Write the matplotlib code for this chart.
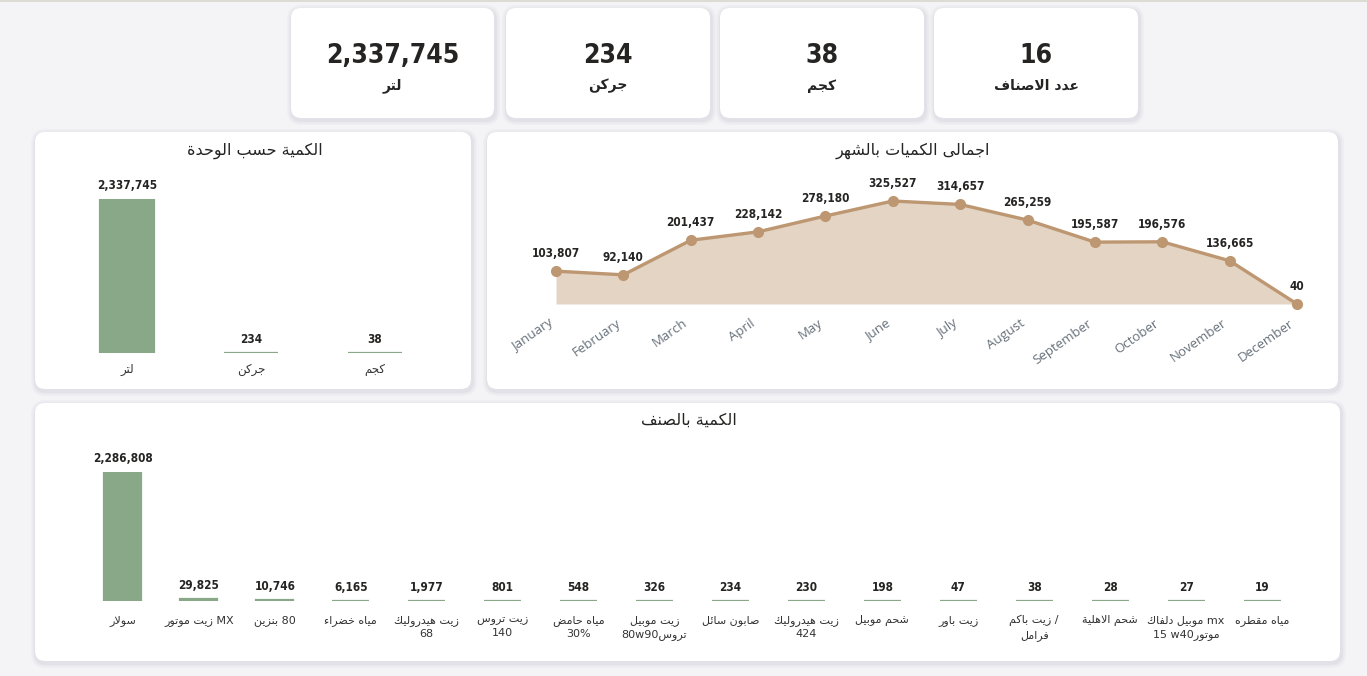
import re
import matplotlib
matplotlib.use('Agg')
import matplotlib.pyplot as plt
from matplotlib.patches import FancyBboxPatch
from matplotlib.transforms import ScaledTranslation

# ---- data ----
units = ['لتر', 'جركن', 'كجم']
unit_qty = [2337745, 234, 38]

months = ['January', 'February', 'March', 'April', 'May', 'June', 'July',
          'August', 'September', 'October', 'November', 'December']
month_qty = [103807, 92140, 201437, 228142, 278180, 325527, 314657,
             265259, 195587, 196576, 136665, 40]

items = ['سولار', 'زيت موتور MX', 'بنزين 80', 'مياه خضراء', 'زيت هيدروليك\n68',
         'زيت تروس\n140', 'مياه حامض\n30%', 'زيت موبيل\n80w90تروس', 'صابون سائل',
         'زيت هيدروليك\n424', 'شحم موبيل', 'زيت باور', 'زيت باكم /\nفرامل',
         'شحم الاهلية', 'موبيل دلفاك mx\n15 w40موتور', 'مياه مقطره']
item_qty = [2286808, 29825, 10746, 6165, 1977, 801, 548, 326, 234, 230,
            198, 47, 38, 28, 27, 19]

kpi_count_label = 'عدد الاصناف'
title_units = 'الكمية حسب الوحدة'
title_months = 'اجمالى الكميات بالشهر'
title_items = 'الكمية بالصنف'

# ---- tiny arabic shaper (no arabic_reshaper here) ----
DUAL = {'ئ': 0xFE89, 'ب': 0xFE8F, 'ت': 0xFE95, 'ث': 0xFE99, 'ج': 0xFE9D,
        'ح': 0xFEA1, 'خ': 0xFEA5, 'س': 0xFEB1, 'ش': 0xFEB5, 'ص': 0xFEB9,
        'ض': 0xFEBD, 'ط': 0xFEC1, 'ظ': 0xFEC5, 'ع': 0xFEC9, 'غ': 0xFECD,
        'ف': 0xFED1, 'ق': 0xFED5, 'ك': 0xFED9, 'ل': 0xFEDD, 'م': 0xFEE1,
        'ن': 0xFEE5, 'ه': 0xFEE9, 'ي': 0xFEF1}
RIGHT = {'آ': 0xFE81, 'أ': 0xFE83, 'ؤ': 0xFE85, 'إ': 0xFE87, 'ا': 0xFE8D,
         'ة': 0xFE93, 'د': 0xFEA9, 'ذ': 0xFEAB, 'ر': 0xFEAD, 'ز': 0xFEAF,
         'و': 0xFEED, 'ى': 0xFEEF}
LAM_ALEF = {'آ': 0xFEF5, 'أ': 0xFEF7, 'إ': 0xFEF9, 'ا': 0xFEFB}
AR_RUN = re.compile('[\u0600-\u06FF\uFE70-\uFEFF]+(?:\\s+[\u0600-\u06FF\uFE70-\uFEFF]+)*')


def shape(line):
    toks = []
    i = 0
    while i < len(line):
        c = line[i]
        if c == 'ل' and i + 1 < len(line) and line[i + 1] in LAM_ALEF:
            toks.append(('R', LAM_ALEF[line[i + 1]], c))
            i += 2
            continue
        if c in DUAL:
            toks.append(('D', DUAL[c], c))
        elif c in RIGHT:
            toks.append(('R', RIGHT[c], c))
        else:
            toks.append(('N', None, c))
        i += 1
    out = []
    for k, (kind, base, c) in enumerate(toks):
        prev_j = k > 0 and toks[k - 1][0] == 'D' and kind in 'DR'
        next_j = kind == 'D' and k + 1 < len(toks) and toks[k + 1][0] in 'DR'
        if kind == 'D':
            off = 3 if (prev_j and next_j) else 1 if prev_j else 2 if next_j else 0
            out.append(chr(base + off))
        elif kind == 'R':
            out.append(chr(base + (1 if prev_j else 0)))
        else:
            out.append(c)
    return ''.join(out)


def ar(text):
    # LTR paragraph, arabic runs drawn right to left
    return '\n'.join(AR_RUN.sub(lambda m: m.group(0)[::-1], shape(l))
                     for l in text.split('\n'))


# ---- style ----
W, H = 1367, 676
GREEN = '#88a888'
LINE = '#bd9771'
FILL = '#e3d4c4'
DARK = '#252423'
NUM = dict(family=['DejaVu Sans'], fontstretch='condensed', fontweight='bold')
ARF = ['DejaVu Sans']

fig = plt.figure(figsize=(W / 100, H / 100), dpi=100)
fig.patch.set_facecolor('#f4f4f7')

bg = fig.add_axes([0, 0, 1, 1])
bg.set_xlim(0, W)
bg.set_ylim(H, 0)
bg.axis('off')
bg.plot([0, W], [0.6, 0.6], color='#d8d8cf', lw=1.2)


def card(x0, y0, x1, y1):
    for k, a in [(5, 0.03), (3.5, 0.04), (2, 0.06)]:
        bg.add_patch(FancyBboxPatch((x0 - k + 1, y0 - k + 2), x1 - x0 + 2 * k, y1 - y0 + 2 * k,
                                    boxstyle='round,pad=0,rounding_size=%d' % (10 + k),
                                    fc='#6a6a80', ec='none', alpha=a))
    bg.add_patch(FancyBboxPatch((x0, y0), x1 - x0, y1 - y0,
                                boxstyle='round,pad=0,rounding_size=10', fc='white', ec='none'))


def ax_px(x0, y0, x1, y1):
    a = fig.add_axes([x0 / W, 1 - y1 / H, (x1 - x0) / W, (y1 - y0) / H])
    a.patch.set_alpha(0)
    for s in a.spines.values():
        s.set_visible(False)
    a.set_yticks([])
    a.tick_params(axis='x', length=0)
    return a


# KPI cards
kpi_boxes = [(291, 8, 494, 118), (506, 8, 710, 118), (720, 8, 924, 118), (934, 8, 1138, 118)]
kpi_vals = unit_qty + [len(items)]
kpi_labels = units + [kpi_count_label]
for (x0, y0, x1, y1), v, lab in zip(kpi_boxes, kpi_vals, kpi_labels):
    card(x0, y0, x1, y1)
    cx = (x0 + x1) / 2
    bg.text(cx, 56, f'{v:,}', ha='center', va='center', fontsize=19, color=DARK, **NUM)
    bg.text(cx, 86, ar(lab), ha='center', va='center', fontsize=10, fontweight='bold',
            color=DARK, family=ARF)

# panels
card(35, 132, 471, 389)
card(487, 132, 1338, 389)
card(35, 403, 1340, 661)
bg.text(255, 151, ar(title_units), ha='center', va='center', fontsize=11.5, color=DARK, family=ARF)
bg.text(913, 151, ar(title_months), ha='center', va='center', fontsize=11.5, color=DARK, family=ARF)
bg.text(689, 420, ar(title_items), ha='center', va='center', fontsize=11.5, color=DARK, family=ARF)

# quantity by unit
ax1 = ax_px(65, 199, 437, 353)
xs = range(len(units))
ax1.bar(xs, unit_qty, width=0.435, color=GREEN, edgecolor=GREEN, linewidth=1.6)
ax1.set_xlim(-0.5, len(units) - 0.5)
ax1.set_ylim(0, max(unit_qty))
ax1.set_xticks(list(xs))
ax1.set_xticklabels([ar(u) for u in units], fontsize=8.5, color='#333333', family=ARF)
ax1.tick_params(axis='x', pad=7)
for i, v in enumerate(unit_qty):
    ax1.annotate(f'{v:,}', (i, v), xytext=(0, 5), textcoords='offset points', ha='center',
                 va='bottom', fontsize=8.5, color=DARK, annotation_clip=False, **NUM)

# monthly totals
ax2 = ax_px(556, 201, 1297, 304)
mx = list(range(len(months)))
ax2.fill_between(mx, month_qty, 0, color=FILL, lw=0)
ax2.plot(mx, month_qty, color=LINE, lw=2.4, marker='o', ms=7, clip_on=False)
ax2.set_xlim(0, len(months) - 1)
ax2.set_ylim(0, max(month_qty))
ax2.set_xticks(mx)
ax2.set_xticklabels(months, rotation=35, ha='right', rotation_mode='anchor',
                    fontsize=9.5, color='#66707a', family=['Open Sans', 'DejaVu Sans'])
ax2.tick_params(axis='x', pad=9)
shift = ScaledTranslation(-8 / 100, 0, fig.dpi_scale_trans)
for lbl in ax2.get_xticklabels():
    lbl.set_transform(lbl.get_transform() + shift)
for i, v in enumerate(month_qty):
    ax2.annotate(f'{v:,}', (i, v), xytext=(0, 8), textcoords='offset points', ha='center',
                 va='bottom', fontsize=8.5, color=DARK, annotation_clip=False, **NUM)

# quantity by item
ax3 = ax_px(85, 472, 1300, 601)
ix = list(range(len(items)))
ax3.bar(ix, item_qty, width=0.487, color=GREEN, edgecolor=GREEN, linewidth=1.6)
ax3.set_xlim(-0.5, len(items) - 0.5)
ax3.set_ylim(0, max(item_qty))
ax3.set_xticks(ix)
ax3.set_xticklabels([ar(s) for s in items], fontsize=8, color='#333333', family=ARF,
                    linespacing=1.45)
ax3.tick_params(axis='x', pad=10)
for i, v in enumerate(item_qty):
    ax3.annotate(f'{v:,}', (i, v), xytext=(0, 5), textcoords='offset points', ha='center',
                 va='bottom', fontsize=8.5, color=DARK, annotation_clip=False, **NUM)

fig.savefig('out.png', dpi=100, facecolor=fig.get_facecolor())
